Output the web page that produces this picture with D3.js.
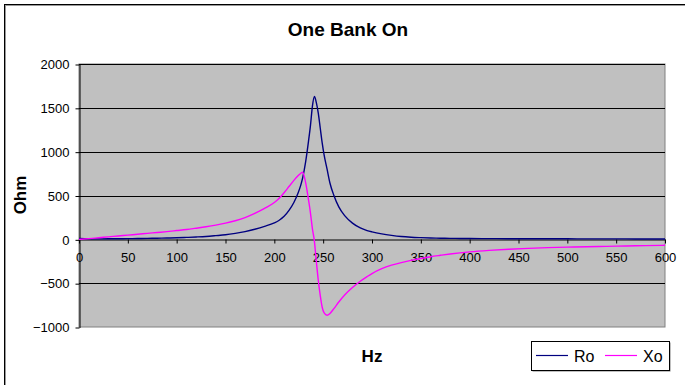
<!DOCTYPE html>
<html>
<head>
<meta charset="utf-8">
<script src="https://cdn.jsdelivr.net/npm/d3@7"></script>
<style>
body { margin: 0; background: #fff; }
text { font-family: "Liberation Sans", Arial, sans-serif; }
</style>
</head>
<body>
<svg width="685" height="385"></svg>
<script>
var svg = d3.select("svg");

// frequency (Hz) and impedance values (Ohm)
var freq = [0, 10, 20, 30, 40, 50, 60, 70, 80, 90, 100, 110, 120, 130, 140, 150, 160, 170, 180, 190,
	200, 205, 210, 215, 220, 224, 227, 229, 232, 235, 237, 239, 241, 243, 245, 247, 249, 251, 254, 257,
	261, 266, 272, 280, 288, 295, 300, 310, 320, 330, 340, 350, 360, 370, 380, 390, 400, 420, 440, 460,
	480, 500, 520, 540, 560, 580, 600];
var ro = [10, 5, 5, 6, 7, 8, 9, 11, 13, 15, 18, 22, 27, 33, 42, 52, 68, 88, 115, 148,
	188, 218, 262, 330, 420, 520, 615, 700, 880, 1120, 1300, 1520, 1630, 1560, 1440, 1270, 1100, 960, 800, 640,
	500, 370, 270, 185, 130, 100, 85, 62, 45, 32, 24, 19, 15, 13, 11, 10, 9, 8, 7, 7,
	6, 6, 5, 5, 5, 4, 4];
var xo = [0, 8, 18, 28, 38, 48, 58, 68, 78, 88, 100, 112, 127, 143, 162, 185, 212, 247, 295, 352,
	420, 468, 532, 602, 672, 722, 753, 765, 650, 450, 300, 120, -20, -250, -467, -640, -775, -840, -866, -845,
	-790, -715, -635, -550, -478, -425, -390, -335, -295, -265, -240, -218, -198, -182, -167, -154, -143, -126, -113, -103,
	-95, -89, -84, -80, -76, -72, -68];
var xTicks = d3.range(0, 601, 50);
var yTicks = [-1000, -500, 0, 500, 1000, 1500, 2000];
var series = [
	{ name: "Ro", values: ro, color: "#000080" },
	{ name: "Xo", values: xo, color: "#ff00ff" }
];

var x = d3.scaleLinear().domain([0, 600]).range([79, 665]);
var y = d3.scaleLinear().domain([-1000, 2000]).range([327, 64]);

// outer chart frame
svg.append("rect")
	.attr("x", 5.5).attr("y", 5.5).attr("width", 700).attr("height", 400)
	.attr("fill", "none").attr("stroke", "#999").attr("stroke-width", 1);
svg.append("rect")
	.attr("x", 4.5).attr("y", 4.5).attr("width", 700).attr("height", 400)
	.attr("fill", "none").attr("stroke", "#000").attr("stroke-width", 1);

// plot area
svg.append("rect")
	.attr("x", x(0)).attr("y", y(2000))
	.attr("width", x(600) - x(0)).attr("height", y(-1000) - y(2000))
	.attr("fill", "#c0c0c0").attr("stroke", "#808080");

// gridlines
svg.append("g")
	.selectAll("line")
	.data(yTicks.filter(d => d != 0 && d != -1000))
	.enter().append("line")
	.attr("x1", x(0)).attr("x2", x(600))
	.attr("y1", d => Math.round(y(d)) + 0.5).attr("y2", d => Math.round(y(d)) + 0.5)
	.attr("stroke", "#000");

// y axis
var yAxis = svg.append("g")
	.attr("transform", "translate(" + (x(0) + 0.5) + ",0.5)")
	.call(d3.axisLeft(y).tickValues(yTicks).tickFormat(d3.format("d")).tickSize(4).tickSizeOuter(0).tickPadding(6));
yAxis.selectAll("text").attr("font-size", 13).attr("fill", "#000").attr("font-family", null);
yAxis.select(".domain").attr("stroke", "#000");

// x axis crossing at 0
var xAxis = svg.append("g")
	.attr("transform", "translate(0," + (Math.round(y(0)) + 0.5) + ")")
	.call(d3.axisBottom(x).tickValues(xTicks).tickFormat(d3.format("d")).tickSize(4).tickSizeOuter(0).tickPadding(9));
xAxis.selectAll("text").attr("font-size", 13).attr("fill", "#000").attr("font-family", null);
xAxis.select(".domain").attr("stroke", "#000");

// curves
var line = d3.line()
	.x((d, i) => x(freq[i]))
	.y(d => y(d))
	.curve(d3.curveMonotoneX);

svg.append("g")
	.selectAll("path")
	.data(series)
	.enter().append("path")
	.attr("d", d => line(d.values))
	.attr("fill", "none")
	.attr("stroke", d => d.color)
	.attr("stroke-width", 1.4);

// titles
svg.append("text")
	.attr("x", 348).attr("y", 36)
	.attr("text-anchor", "middle")
	.attr("font-size", 19).attr("font-weight", "bold")
	.text("One Bank On");

svg.append("text")
	.attr("transform", "translate(26,195) rotate(-90)")
	.attr("text-anchor", "middle")
	.attr("font-size", 17).attr("font-weight", "bold")
	.text("Ohm");

svg.append("text")
	.attr("x", 372).attr("y", 362)
	.attr("text-anchor", "middle")
	.attr("font-size", 17).attr("font-weight", "bold")
	.text("Hz");

// legend
var legend = svg.append("g");
legend.append("rect")
	.attr("x", 532.5).attr("y", 342.5).attr("width", 138).attr("height", 29)
	.attr("fill", "#808080");
legend.append("rect")
	.attr("x", 531.5).attr("y", 341.5).attr("width", 138).attr("height", 29)
	.attr("fill", "#fff").attr("stroke", "#000");

var item = legend.selectAll(".item")
	.data(series)
	.enter().append("g")
	.attr("class", "item")
	.attr("transform", (d, i) => "translate(" + (536 + i * 69) + ",355.5)");
item.append("line")
	.attr("x1", 0).attr("x2", 32)
	.attr("stroke", d => d.color).attr("stroke-width", 1.2);
item.append("text")
	.attr("x", 38).attr("y", 6)
	.attr("font-size", 16)
	.text(d => d.name);
</script>
</body>
</html>
